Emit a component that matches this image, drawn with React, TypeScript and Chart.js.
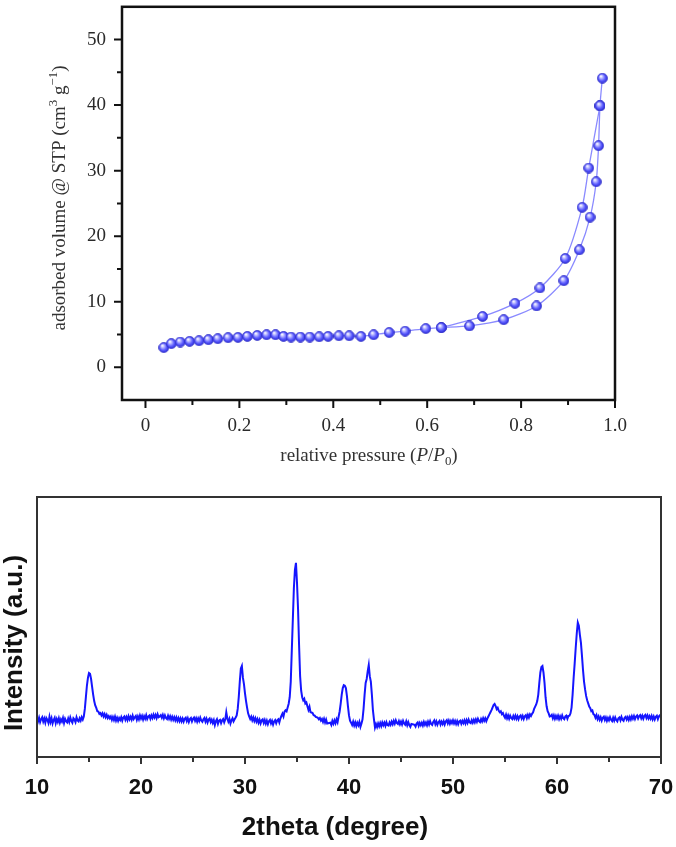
import React, { useEffect, useRef } from "react";
import { Chart, registerables } from "chart.js";

Chart.register(...registerables);

// ---------- BET isotherm (top panel) ----------
const ADS_P = [0.039, 0.055, 0.074, 0.094, 0.114, 0.134, 0.154, 0.176, 0.197, 0.217, 0.238, 0.258, 0.277, 0.294, 0.31, 0.33, 0.35, 0.37, 0.389, 0.412, 0.434, 0.459, 0.486, 0.519, 0.553, 0.597, 0.63, 0.69, 0.763, 0.833, 0.891, 0.924, 0.947, 0.96, 0.965, 0.968, 0.973];
const ADS_V = [3.0, 3.6, 3.85, 3.95, 4.05, 4.2, 4.35, 4.5, 4.55, 4.7, 4.85, 4.95, 4.95, 4.7, 4.6, 4.6, 4.6, 4.65, 4.7, 4.8, 4.8, 4.7, 4.95, 5.3, 5.5, 5.9, 6.05, 6.3, 7.25, 9.35, 13.2, 17.9, 22.9, 28.3, 33.8, 39.9, 44.1];
const DES_P = [0.968, 0.944, 0.93, 0.894, 0.84, 0.787, 0.718, 0.63];
const DES_V = [39.9, 30.4, 24.4, 16.6, 12.1, 9.75, 7.75, 6.05];

const BET_X_TICKS = [0, 0.2, 0.4, 0.6, 0.8, 1.0];
const BET_X_LABELS = ["0", "0.2", "0.4", "0.6", "0.8", "1.0"];
const BET_X_MINOR = [0.1, 0.3, 0.5, 0.7, 0.9];
const BET_Y_TICKS = [0, 10, 20, 30, 40, 50];
const BET_Y_LABELS = ["0", "10", "20", "30", "40", "50"];
const BET_Y_MINOR = [5, 15, 25, 35, 45];

// ---------- XRD pattern (bottom panel) ----------
const XRD_START = 10;
const XRD_STEP = 0.1;
const XRD_I = [
  14.9, 13.7, 15.1, 13.4, 14.6, 15.3, 13.6, 14.8, 13.2, 15.0,
  14.3, 13.1, 15.5, 13.5, 14.9, 12.9, 14.2, 15.1, 13.0, 14.6,
  13.5, 14.9, 13.2, 14.5, 13.6, 15.0, 13.1, 14.7, 13.8, 13.3,
  14.8, 13.5, 15.2, 13.9, 13.2, 14.9, 14.4, 13.4, 15.3, 14.1,
  13.7, 14.9, 14.0, 15.3, 14.4, 15.6, 18.5, 23.0, 27.5, 30.5,
  32.3, 32.0, 30.0, 27.0, 24.0, 21.5, 19.8, 18.9, 17.6, 17.5,
  16.6, 16.9, 16.0, 16.8, 15.6, 16.5, 15.3, 16.2, 15.0, 15.7,
  14.9, 15.6, 14.3, 15.4, 14.2, 15.5, 14.0, 15.1, 13.9, 15.0,
  14.2, 15.3, 14.0, 15.2, 15.6, 14.3, 15.4, 14.2, 15.7, 14.5,
  15.5, 14.4, 15.9, 14.6, 15.3, 15.8, 14.3, 15.6, 14.5, 16.0,
  14.8, 15.8, 14.4, 15.7, 14.7, 16.1, 14.6, 15.5, 15.9, 14.7,
  16.0, 15.0, 16.3, 15.2, 16.2, 15.0, 16.4, 15.3, 15.6, 16.1,
  15.1, 16.2, 14.9, 16.0, 15.0, 14.6, 15.9, 14.7, 15.7, 14.4,
  15.5, 14.3, 15.3, 14.1, 15.2, 13.9, 15.0, 13.8, 14.9, 13.7,
  14.8, 13.6, 14.7, 15.1, 13.8, 14.9, 13.5, 14.6, 15.0, 13.7,
  14.7, 15.2, 13.9, 14.9, 13.6, 14.8, 13.8, 15.1, 14.0, 13.5,
  14.5, 15.0, 13.6, 14.7, 13.3, 14.4, 14.8, 13.4, 14.3, 13.1,
  14.2, 12.3, 13.8, 14.5, 12.8, 14.0, 14.3, 13.0, 14.1, 14.6,
  13.3, 14.4, 17.2, 14.8, 13.6, 14.7, 12.9, 14.1, 14.9, 13.7,
  14.5, 15.2, 16.0, 18.5, 23.0, 29.0, 34.0, 35.0, 30.5, 28.0,
  24.5, 21.5, 19.0, 16.8, 15.6, 14.6, 15.5, 14.1, 15.2, 13.8,
  14.9, 13.6, 14.6, 13.2, 14.3, 12.9, 14.1, 14.5, 13.1, 14.2,
  12.8, 14.0, 12.6, 13.8, 14.3, 12.9, 13.9, 12.5, 13.7, 14.2,
  13.0, 14.1, 14.5, 13.3, 14.8, 15.8, 16.7, 15.6, 17.4, 18.0,
  17.6, 19.0, 20.5, 23.0, 29.0, 41.0, 53.0, 65.0, 72.0, 74.7,
  67.0, 57.0, 43.0, 31.0, 25.5, 23.0, 21.8, 22.4, 20.6, 21.0,
  19.5, 18.1, 19.3, 17.2, 17.1, 16.9, 16.1, 15.9, 15.4, 15.3,
  15.1, 14.5, 15.0, 14.0, 14.6, 13.5, 14.7, 13.3, 14.4, 12.9,
  13.0, 13.1, 13.2, 12.3, 13.9, 12.8, 14.1, 13.0, 14.5, 13.4,
  15.5, 17.5, 20.5, 24.0, 26.5, 27.6, 27.4, 26.5, 23.5, 19.5,
  16.0, 14.0, 13.2, 12.3, 13.6, 12.1, 13.3, 11.9, 13.2, 12.2,
  13.5, 11.6, 12.9, 14.5, 18.5, 24.0, 28.5, 30.0, 33.0, 35.4,
  31.0, 29.0, 24.0, 18.0, 14.5, 11.3, 12.6, 11.5, 12.9, 11.8,
  13.1, 11.9, 13.3, 12.2, 13.2, 12.0, 13.4, 12.3, 12.1, 13.3,
  12.4, 13.6, 12.6, 13.9, 12.8, 14.1, 13.1, 12.7, 13.8, 12.6,
  13.6, 12.5, 13.9, 12.9, 12.4, 13.7, 12.2, 13.4, 12.3, 11.6,
  12.7, 12.6, 12.5, 12.4, 11.7, 12.9, 13.3, 12.0, 13.1, 12.2,
  13.2, 12.1, 13.5, 12.4, 13.3, 12.2, 13.6, 12.5, 13.8, 12.7,
  12.3, 13.5, 14.1, 12.6, 13.7, 12.4, 13.4, 13.9, 12.5, 13.6,
  12.7, 13.8, 12.5, 13.7, 14.2, 12.9, 14.0, 12.8, 13.9, 13.0,
  14.1, 12.9, 13.9, 12.7, 13.8, 12.6, 13.7, 14.0, 12.8, 13.9,
  13.0, 14.1, 12.9, 14.2, 13.1, 14.4, 13.3, 13.0, 14.2, 13.2,
  14.3, 13.3, 14.5, 13.5, 14.7, 13.8, 13.4, 14.6, 13.7, 14.9,
  13.9, 14.9, 13.8, 14.8, 15.6, 16.4, 17.2, 18.0, 19.0, 20.0,
  20.4, 19.6, 18.4, 18.9, 17.8, 17.2, 17.6, 16.5, 16.9, 15.8,
  15.1, 16.3, 14.9, 16.0, 14.7, 15.9, 15.0, 14.6, 15.8, 14.8,
  15.9, 14.7, 15.7, 14.5, 15.6, 16.0, 14.8, 15.8, 14.6, 15.7,
  16.1, 14.9, 16.2, 15.2, 16.4, 15.8, 16.6, 17.2, 18.5, 19.4,
  20.2, 21.5, 24.0, 28.5, 32.5, 34.6, 35.0, 32.5, 28.5, 23.0,
  19.5, 17.6, 16.8, 15.6, 15.7, 16.2, 14.9, 16.0, 14.7, 15.8,
  14.8, 15.9, 14.6, 15.7, 14.7, 16.0, 14.9, 14.5, 15.6, 15.9,
  14.7, 15.8, 15.9, 16.8, 19.0, 24.0, 30.5, 36.0, 42.0, 47.5,
  51.7, 50.5, 47.0, 44.0, 39.0, 33.5, 29.0, 26.0, 23.5, 21.8,
  20.6, 19.4, 18.8, 17.6, 17.9, 16.5, 16.2, 15.1, 16.1, 14.6,
  15.6, 14.3, 15.3, 14.0, 15.1, 15.5, 14.2, 15.2, 13.9, 15.0,
  14.1, 15.3, 14.3, 13.8, 15.1, 14.0, 15.2, 14.2, 13.7, 14.9,
  15.2, 14.1, 15.4, 14.3, 13.9, 15.1, 15.5, 14.4, 15.3, 14.2,
  15.4, 14.4, 15.7, 14.7, 15.8, 14.6, 15.6, 16.0, 14.8, 15.7,
  16.1, 14.9, 15.9, 14.7, 15.8, 16.2, 15.0, 16.0, 14.8, 15.7,
  14.7, 15.8, 14.5, 15.6, 14.4, 15.5, 15.9, 14.6, 15.7, 16.1,
  15.2,
];
const XRD_X_TICKS = [10, 20, 30, 40, 50, 60, 70];
const XRD_X_LABELS = ["10", "20", "30", "40", "50", "60", "70"];
const XRD_X_MINOR = [15, 25, 35, 45, 55, 65];

type Seg = { t: string; k?: "i" | "sub" | "sup" };

function drawRich(
  ctx: CanvasRenderingContext2D,
  segs: Seg[],
  cx: number,
  cy: number,
  size: number,
  family: string,
  weight: string,
  color: string,
  rotate: boolean
) {
  const fontFor = (s: Seg) => {
    const sz = s.k === "sub" || s.k === "sup" ? size * 0.68 : size;
    return `${s.k === "i" ? "italic " : ""}${weight} ${sz}px ${family}`;
  };
  ctx.save();
  ctx.fillStyle = color;
  ctx.textBaseline = "middle";
  ctx.textAlign = "left";
  let total = 0;
  const widths = segs.map((s) => {
    ctx.font = fontFor(s);
    const w = ctx.measureText(s.t).width;
    total += w;
    return w;
  });
  ctx.translate(cx, cy);
  if (rotate) ctx.rotate(-Math.PI / 2);
  let x = -total / 2;
  segs.forEach((s, i) => {
    ctx.font = fontFor(s);
    let dy = 0;
    if (s.k === "sub") dy = size * 0.3;
    if (s.k === "sup") dy = -size * 0.36;
    ctx.fillText(s.t, x, dy);
    x += widths[i];
  });
  ctx.restore();
}

function framePlugin(o: {
  color: string;
  width: number;
  tickWidth: number;
  major: number;
  minor: number;
  xMajor: number[];
  xMinor: number[];
  yMajor: number[];
  yMinor: number[];
  titles: (ctx: CanvasRenderingContext2D) => void;
}) {
  return {
    id: "frameTicks",
    afterDraw(chart: any) {
      const { ctx, chartArea: a, scales } = chart;
      ctx.save();
      ctx.strokeStyle = o.color;
      ctx.lineWidth = o.tickWidth;
      ctx.beginPath();
      o.xMajor.forEach((v) => {
        const p = scales.x.getPixelForValue(v);
        ctx.moveTo(p, a.bottom);
        ctx.lineTo(p, a.bottom + o.major);
      });
      o.xMinor.forEach((v) => {
        const p = scales.x.getPixelForValue(v);
        ctx.moveTo(p, a.bottom);
        ctx.lineTo(p, a.bottom + o.minor);
      });
      o.yMajor.forEach((v) => {
        const p = scales.y.getPixelForValue(v);
        ctx.moveTo(a.left, p);
        ctx.lineTo(a.left - o.major, p);
      });
      o.yMinor.forEach((v) => {
        const p = scales.y.getPixelForValue(v);
        ctx.moveTo(a.left, p);
        ctx.lineTo(a.left - o.minor, p);
      });
      ctx.stroke();
      ctx.lineWidth = o.width;
      ctx.strokeRect(a.left, a.top, a.right - a.left, a.bottom - a.top);
      ctx.restore();
      o.titles(ctx);
    },
  };
}

function makeSphere(d: number) {
  const c = document.createElement("canvas");
  c.width = d;
  c.height = d;
  const g = c.getContext("2d")!;
  const r = d / 2;
  const grad = g.createRadialGradient(r * 0.72, r * 0.62, 0.3, r, r, r);
  grad.addColorStop(0, "#ffffff");
  grad.addColorStop(0.22, "#c4c4ff");
  grad.addColorStop(0.6, "#5c5cff");
  grad.addColorStop(1, "#2626d6");
  g.beginPath();
  g.arc(r, r, r - 0.6, 0, Math.PI * 2);
  g.fillStyle = grad;
  g.fill();
  g.lineWidth = 0.9;
  g.strokeStyle = "#3232c8";
  g.stroke();
  return c;
}

const zeroPad = (s: any) => {
  s.paddingTop = 0;
  s.paddingBottom = 0;
  s.paddingLeft = 0;
  s.paddingRight = 0;
};

export default function App() {
  const topRef = useRef<HTMLCanvasElement>(null);
  const botRef = useRef<HTMLCanvasElement>(null);

  useEffect(() => {
    const sphere = makeSphere(11);
    const serif = "'Liberation Serif', 'Times New Roman', serif";
    const sans = "'Liberation Sans', Arial, sans-serif";

    const top = new Chart(topRef.current!, {
      type: "line",
      data: {
        datasets: [
          {
            data: ADS_P.map((p, i) => ({ x: p, y: ADS_V[i] })),
            borderColor: "#8a8aff",
            borderWidth: 1.3,
            tension: 0.25,
            pointStyle: sphere as any,
            pointRadius: 5.5,
          },
          {
            data: DES_P.map((p, i) => ({ x: p, y: DES_V[i] })),
            borderColor: "#8a8aff",
            borderWidth: 1.3,
            tension: 0.25,
            pointStyle: sphere as any,
            pointRadius: 5.5,
          },
        ],
      },
      options: {
        animation: false,
        responsive: false,
        devicePixelRatio: 1,
        layout: { padding: { top: 3, right: 61, left: 0, bottom: 0 } },
        plugins: { legend: { display: false }, tooltip: { enabled: false } },
        scales: {
          x: {
            type: "linear",
            min: -0.05,
            max: 1.0,
            grid: { display: false, drawTicks: false },
            border: { display: false },
            afterBuildTicks: (s: any) => {
              s.ticks = BET_X_TICKS.map((v) => ({ value: v }));
            },
            afterFit: (s: any) => {
              s.height = 70;
              zeroPad(s);
            },
            ticks: {
              padding: 15,
              maxRotation: 0,
              autoSkip: false,
              color: "#2a2a2a",
              font: { family: serif, size: 19 },
              callback: (_v: any, i: number) => BET_X_LABELS[i],
            },
          },
          y: {
            type: "linear",
            min: -5,
            max: 55,
            grid: { display: false, drawTicks: false },
            border: { display: false },
            afterBuildTicks: (s: any) => {
              s.ticks = BET_Y_TICKS.map((v) => ({ value: v }));
            },
            afterFit: (s: any) => {
              s.width = 122;
              zeroPad(s);
            },
            ticks: {
              padding: 16,
              autoSkip: false,
              color: "#2a2a2a",
              font: { family: serif, size: 19 },
              callback: (_v: any, i: number) => BET_Y_LABELS[i],
            },
          },
        },
      },
      plugins: [
        framePlugin({
          color: "#111",
          width: 2.5,
          tickWidth: 2,
          major: 8,
          minor: 5,
          xMajor: BET_X_TICKS,
          xMinor: BET_X_MINOR,
          yMajor: BET_Y_TICKS,
          yMinor: BET_Y_MINOR,
          titles: (ctx) => {
            drawRich(
              ctx,
              [{ t: "relative pressure (" }, { t: "P", k: "i" }, { t: "/" }, { t: "P", k: "i" }, { t: "0", k: "sub" }, { t: ")" }],
              369, 456, 19, serif, "normal", "#333", false
            );
            drawRich(
              ctx,
              [{ t: "adsorbed volume @ STP (cm" }, { t: "3", k: "sup" }, { t: " g" }, { t: "\u22121", k: "sup" }, { t: ")" }],
              60, 198, 19, serif, "normal", "#333", true
            );
          },
        }) as any,
      ],
    });

    const bot = new Chart(botRef.current!, {
      type: "line",
      data: {
        datasets: [
          {
            data: XRD_I.map((v, i) => ({ x: XRD_START + i * XRD_STEP, y: v })),
            borderColor: "#1515ff",
            borderWidth: 2,
            pointRadius: 0,
            tension: 0,
          },
        ],
      },
      options: {
        animation: false,
        responsive: false,
        devicePixelRatio: 1,
        layout: { padding: { top: 17, right: 15, left: 37, bottom: 0 } },
        plugins: { legend: { display: false }, tooltip: { enabled: false } },
        scales: {
          x: {
            type: "linear",
            min: 10,
            max: 70,
            grid: { display: false, drawTicks: false },
            border: { display: false },
            afterBuildTicks: (s: any) => {
              s.ticks = XRD_X_TICKS.map((v) => ({ value: v }));
            },
            afterFit: (s: any) => {
              s.height = 90;
              zeroPad(s);
            },
            ticks: {
              padding: 18,
              maxRotation: 0,
              autoSkip: false,
              color: "#111",
              font: { family: sans, size: 22, weight: "bold" },
              callback: (_v: any, i: number) => XRD_X_LABELS[i],
            },
          },
          y: {
            type: "linear",
            min: 0,
            max: 100,
            display: false,
          },
        },
      },
      plugins: [
        framePlugin({
          color: "#333",
          width: 2,
          tickWidth: 2,
          major: 7,
          minor: 5,
          xMajor: XRD_X_TICKS,
          xMinor: XRD_X_MINOR,
          yMajor: [],
          yMinor: [],
          titles: (ctx) => {
            drawRich(ctx, [{ t: "2theta (degree)" }], 335, 348, 26, sans, "bold", "#111", false);
            drawRich(ctx, [{ t: "Intensity (a.u.)" }], 15, 163, 26, sans, "bold", "#111", true);
          },
        }) as any,
      ],
    });

    return () => {
      top.destroy();
      bot.destroy();
    };
  }, []);

  return (
    <div style={{ position: "absolute", left: 0, top: 0, width: 676, height: 847, background: "#fff" }}>
      <canvas ref={topRef} width={676} height={470} style={{ position: "absolute", left: 0, top: 0 }} />
      <canvas ref={botRef} width={676} height={367} style={{ position: "absolute", left: 0, top: 480 }} />
    </div>
  );
}
